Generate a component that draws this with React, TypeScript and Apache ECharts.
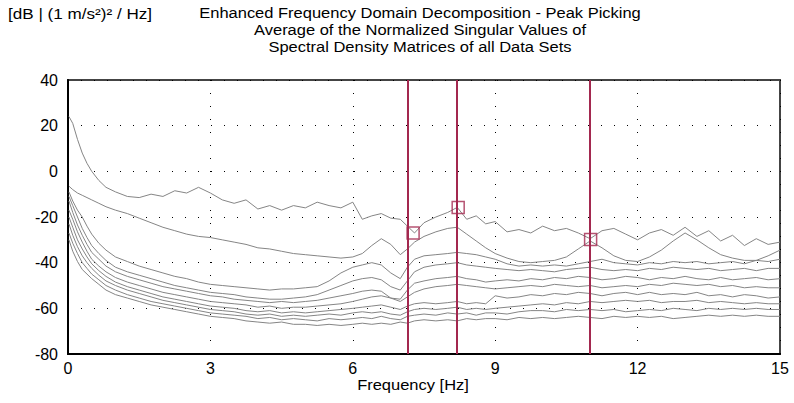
import React, { useEffect, useRef } from "react";
import * as echarts from "echarts";

const freqs = [0.02, 0.1, 0.2, 0.3, 0.4, 0.5, 0.65, 0.8, 1.0, 1.25, 1.5, 1.75, 2.0, 2.25, 2.5, 2.75, 3.0, 3.25, 3.5, 3.75, 4.0, 4.25, 4.5, 4.75, 5.0, 5.25, 5.5, 5.75, 6.0, 6.2, 6.4, 6.6, 6.8, 7.0, 7.15, 7.3, 7.5, 7.75, 8.0, 8.2, 8.4, 8.6, 8.8, 9.0, 9.25, 9.5, 9.75, 10.0, 10.25, 10.5, 10.75, 11.0, 11.25, 11.5, 11.75, 12.0, 12.25, 12.5, 12.75, 13.0, 13.25, 13.5, 13.75, 14.0, 14.25, 14.5, 14.75, 15.0];

const sv1 = [24, 21, 14, 8, 3.5, 0, -4, -7, -9, -11, -11.5, -10, -11, -8.5, -9.5, -7, -9.5, -12.5, -14, -12.5, -16.5, -15, -17, -15, -16, -13.5, -15, -16, -13.5, -21, -19.5, -18.5, -20.5, -21, -24, -27, -22.5, -20, -18, -15.8, -21, -19.5, -23, -22, -26.5, -25.5, -27, -24, -26, -25, -27, -29.5, -26, -25, -27.5, -30, -27, -25.5, -28, -24.5, -28.5, -26, -30.5, -28, -32.5, -29.5, -32, -31];
const sv2 = [-6.5, -8, -9.5, -10.5, -11.5, -12.5, -14, -15.5, -17, -18.5, -20.5, -22.5, -24.5, -26, -27.5, -28.5, -29, -30, -31, -32, -33.5, -34, -35, -36, -36.5, -37, -37.5, -38, -37.5, -36, -32.5, -29.5, -32, -36.5, -34, -31, -28.5, -26.5, -25, -24.5, -27.5, -30.5, -33.5, -36, -38, -39.5, -40, -39.5, -39, -37.5, -34, -30.5, -33.5, -37, -39, -39.5, -37.5, -34.5, -30.5, -27, -30, -33.5, -36.5, -38, -39, -39, -37, -34.5];
const sv3 = [-9, -13, -17, -20, -24, -27.5, -31.5, -34.5, -37.5, -39.5, -41.5, -43, -44.5, -46, -47, -48.5, -49.5, -50, -50.5, -51, -51.5, -52, -51.5, -51.5, -51, -50.5, -48, -44.5, -42, -41, -40, -41, -44.5, -47, -42, -38.5, -37, -36.5, -36, -35.5, -36, -36.5, -37.5, -38.5, -40.5, -41.5, -41, -41.5, -41, -41.5, -40.5, -39.5, -38.5, -40, -40.5, -41, -40, -40.5, -39.5, -40, -39.5, -40.5, -40, -39.5, -40.5, -39, -39.5, -38.5];
const sv4 = [-11, -15, -20, -25, -29, -32.5, -36, -39, -42, -44, -45.5, -47, -48.5, -50, -51, -52, -53, -53.5, -54, -55, -55.5, -56, -56, -55.5, -55, -54, -52, -50, -48, -47, -46.5, -47.5, -50.5, -52, -48, -44, -42, -41, -40.5, -40, -41, -41.5, -42, -42.5, -43, -43.5, -43, -43.5, -44, -43, -42.5, -42, -43, -43.5, -43, -43.5, -42.5, -43, -42, -42.5, -43, -42.5, -43.5, -43, -42.5, -43.5, -42.5, -42.5];
const sv5 = [-13, -18, -23.5, -28, -32, -35.5, -38.5, -41.5, -44, -46, -47.5, -49, -50.5, -51.5, -52.5, -53.5, -54.5, -55, -56, -56.5, -57, -57.5, -57, -57.5, -57, -56.5, -55.5, -54.5, -53.5, -52.5, -52, -52.5, -55.5, -56, -52, -49, -48, -47, -46.5, -46, -47, -47.5, -48.5, -48, -47.5, -48, -47, -47.5, -46.5, -47, -46, -46.5, -47.5, -47, -46, -46.5, -47.5, -46.5, -47, -46, -47, -47.5, -46.5, -47.5, -47, -46.5, -47.5, -47];
const sv6 = [-17, -21, -26.5, -31, -35, -38.5, -41.5, -44, -46.5, -48.5, -50, -51.5, -53, -54, -55, -56, -57, -57.5, -58, -58.5, -59.5, -59, -60, -59.5, -59.5, -59, -58.5, -58, -57, -56, -55, -54.5, -55.5, -57, -55, -53, -51.5, -50.5, -50, -49.5, -50, -50.5, -51, -51.5, -51, -50.5, -50, -50.5, -49.5, -50, -50.5, -50, -51, -50.5, -50, -50.5, -49.5, -50, -49, -49.5, -50, -49.5, -50.5, -50, -51, -50.5, -51, -51];
const sv7 = [-20, -24.5, -30, -34, -37.5, -40.5, -43.5, -46, -48.5, -50.5, -52, -53.5, -55, -56, -57, -58, -59, -59.5, -60, -61, -61.5, -61, -62, -61.5, -62, -61.5, -61, -60.5, -60, -59.5, -59, -58.5, -59.5, -60.5, -59, -58, -57.5, -58, -57.5, -57, -58, -57.5, -58, -54.5, -55.5, -55, -54, -54.5, -53.5, -54, -53, -53.5, -54.5, -53.5, -53, -54, -53, -54, -53.5, -54, -53, -54.5, -54, -55, -54, -54.5, -55.5, -55];
const sv8 = [-23, -28, -33, -37, -40, -42.5, -45.5, -48, -50, -52, -53.5, -55, -56.5, -57.5, -58.5, -59.5, -60.5, -61, -61.5, -62.5, -63, -62.5, -63.5, -63, -63.5, -63, -62.5, -63, -62, -61.5, -62, -61.5, -62.5, -63, -61.5, -60.5, -60, -60.5, -60, -59.5, -60.5, -60, -60.5, -60, -59.5, -59, -58.5, -58, -58.5, -57.5, -58, -57, -57.5, -57, -56.5, -57, -56.5, -57.5, -57, -57, -56.5, -57.5, -57, -57.5, -58, -57.5, -58, -58];
const sv9 = [-27, -31.5, -36, -40, -42.5, -45, -47.5, -50, -52, -54, -55.5, -57, -58, -59, -60, -61, -62, -62.5, -63, -63.5, -64.5, -64, -65, -64.5, -65, -65.5, -64.5, -65, -64.5, -64, -64.5, -63.5, -64.5, -65, -63.5, -63, -62.5, -63, -62, -62.5, -62, -63, -62, -62, -62.5, -61.5, -61, -61, -61.5, -60.5, -61, -60.5, -61, -60.5, -61.5, -61, -60.5, -61, -60, -60.5, -61, -60, -60.5, -60, -60.5, -60, -60.5, -60.5];
const sv10 = [-30, -35, -39.5, -43, -45, -47, -49.5, -52, -54, -55.5, -57, -58.5, -59.5, -60.5, -61.5, -62.5, -63.5, -64, -64.5, -65.5, -66, -66.5, -66, -67, -67, -67.5, -67, -67.5, -67, -66.5, -67, -66.5, -67, -66, -66.5, -65.5, -65, -65.5, -65, -65.5, -64.5, -65, -64.5, -64.5, -65, -64, -64.5, -64, -64.5, -64, -63.5, -64, -64.5, -63.5, -64, -63.5, -64, -63.5, -64.5, -64, -63.5, -63, -63.5, -63, -63.5, -63, -63.5, -63.5];

const curves = [sv1, sv2, sv3, sv4, sv5, sv6, sv7, sv8, sv9, sv10];

const peakLineFreqs = [7.15, 8.2, 11.0];
const peakFreqs = [7.27, 8.22, 11.01];
const peakValues = [-27, -15.8, -29.9];

const xTicks = { min: 0, max: 15, interval: 3 };
const yTicks = { min: -80, max: 40, interval: 20 };

const unitLabel = "[dB | (1 m/s²)² / Hz]";
const titleLines = [
  "Enhanced Frequency Domain Decomposition - Peak Picking",
  "Average of the Normalized Singular Values of",
  "Spectral Density Matrices of all Data Sets",
];
const xName = "Frequency [Hz]";

const FONT = '"Liberation Sans", Arial, sans-serif';
const RED = "#a3284f";

export default function App() {
  const ref = useRef<HTMLDivElement>(null);
  useEffect(() => {
    document.body.style.margin = "0";
    const chart = echarts.init(ref.current!, null, { renderer: "svg" });
    const lineSeries = curves.map((c, k) => ({
      type: "line",
      data: freqs.map((f, i) => [f, c[i]]),
      showSymbol: false,
      silent: true,
      lineStyle: { color: "#858585", width: 1 },
      z: 2,
      ...(k === 0
        ? {
            markLine: {
              symbol: "none",
              silent: true,
              label: { show: false },
              lineStyle: { color: RED, width: 2, type: "solid" },
              data: peakLineFreqs.map((f) => ({ xAxis: f })),
            },
          }
        : {}),
    }));
    chart.setOption({
      animation: false,
      grid: {
        left: 68,
        right: 14,
        top: 80,
        bottom: 49,
        show: true,
        borderColor: "#444",
        borderWidth: 2,
        backgroundColor: "#fff",
      },
      xAxis: {
        type: "value",
        min: xTicks.min,
        max: xTicks.max,
        interval: xTicks.interval,
        axisLine: { show: true, onZero: false, lineStyle: { color: "#000", width: 2 } },
        axisTick: { show: false },
        axisLabel: { fontFamily: FONT, fontSize: 16, color: "#000", margin: 6 },
        splitLine: { show: true, lineStyle: { color: "#000", width: 1, type: [1, 12] } },
      },
      yAxis: {
        type: "value",
        min: yTicks.min,
        max: yTicks.max,
        interval: yTicks.interval,
        axisLine: { show: true, onZero: false, lineStyle: { color: "#000", width: 2 } },
        axisTick: { show: false },
        axisLabel: { fontFamily: FONT, fontSize: 16, color: "#000", margin: 10 },
        splitLine: { show: true, lineStyle: { color: "#000", width: 1, type: [1, 12] } },
      },
      graphic: [
        {
          type: "text",
          x: 8,
          y: 13,
          scaleX: 1.14,
          style: { text: unitLabel, font: `15px ${FONT}`, fill: "#000", textVerticalAlign: "middle" },
        },
        ...titleLines.map((t, i) => ({
          type: "text",
          x: 420,
          y: 13 + i * 17,
          scaleX: 1.1,
          style: { text: t, font: `15px ${FONT}`, fill: "#000", textAlign: "center", textVerticalAlign: "middle" },
        })),
        {
          type: "text",
          x: 413,
          y: 385,
          scaleX: 1.1,
          style: { text: xName, font: `15px ${FONT}`, fill: "#000", textAlign: "center", textVerticalAlign: "middle" },
        },
      ],
      series: [
        ...lineSeries,
        {
          type: "scatter",
          data: peakFreqs.map((f, i) => [f, peakValues[i]]),
          symbol: "rect",
          symbolSize: 12,
          silent: true,
          z: 5,
          itemStyle: { color: "rgba(255,255,255,0)", borderColor: RED, borderWidth: 1.5 },
        },
      ],
    });
    return () => chart.dispose();
  }, []);
  return <div ref={ref} style={{ width: 794, height: 403 }} />;
}
